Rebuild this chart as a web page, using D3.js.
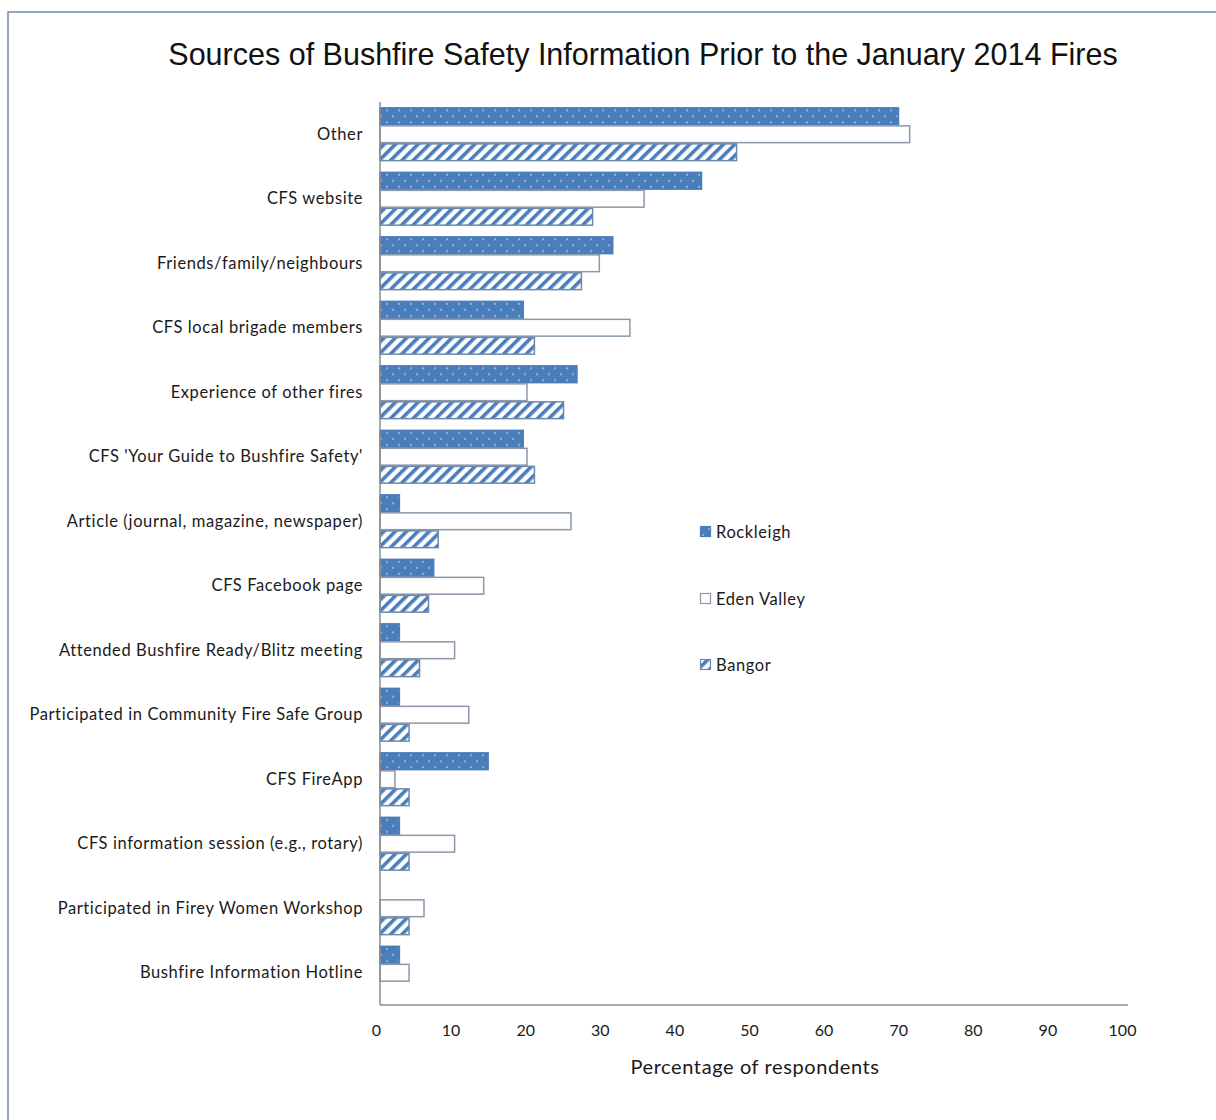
<!DOCTYPE html>
<html>
<head>
<meta charset="utf-8">
<script src="https://cdn.jsdelivr.net/npm/d3@7"></script>
<style>
  html, body { margin: 0; padding: 0; background: #ffffff; }
  svg { display: block; }
</style>
</head>
<body>
<svg id="chart" width="1216" height="1120"></svg>
<script>
// Information sources, listed top to bottom
const categories = [
  "Other",
  "CFS website",
  "Friends/family/neighbours",
  "CFS local brigade members",
  "Experience of other fires",
  "CFS 'Your Guide to Bushfire Safety'",
  "Article (journal, magazine, newspaper)",
  "CFS Facebook page",
  "Attended Bushfire Ready/Blitz meeting",
  "Participated in Community Fire Safe Group",
  "CFS FireApp",
  "CFS information session (e.g., rotary)",
  "Participated in Firey Women Workshop",
  "Bushfire Information Hotline"
];

const seriesNames = ["Rockleigh", "Eden Valley", "Bangor"];

// Percentage of respondents per town
const rockleigh  = [69.5, 43.1, 31.2, 19.2, 26.4, 19.2, 2.6, 7.2, 2.6, 2.6, 14.5, 2.6, 0, 2.6];
const edenValley = [71.0, 35.4, 29.4, 33.5, 19.7, 19.7, 25.6, 13.9, 10.0, 11.9, 2.0, 10.0, 5.9, 3.9];
const bangor     = [47.8, 28.5, 27.0, 20.7, 24.6, 20.7, 7.8, 6.5, 5.3, 3.9, 3.9, 3.9, 3.9, 0];

const xTicks = [0, 10, 20, 30, 40, 50, 60, 70, 80, 90, 100];

const title = "Sources of Bushfire Safety Information Prior to the January 2014 Fires";
const xTitle = "Percentage of respondents";

const valuesBySeries = [rockleigh, edenValley, bangor];

const svg = d3.select("#chart");
const defs = svg.append("defs");

// Dotted fill: blue with small pale dots
const dots = defs.append("pattern")
  .attr("id", "pat-dots")
  .attr("patternUnits", "userSpaceOnUse")
  .attr("width", 12).attr("height", 12);
dots.append("rect").attr("width", 12).attr("height", 12).attr("fill", "#4a7ebb");
dots.append("circle").attr("cx", 3).attr("cy", 3).attr("r", 0.85).attr("fill", "#d6e2f2");
dots.append("circle").attr("cx", 9).attr("cy", 9).attr("r", 0.85).attr("fill", "#d6e2f2");

// Diagonal hatch fill: white with blue stripes
const hatch = defs.append("pattern")
  .attr("id", "pat-hatch")
  .attr("patternUnits", "userSpaceOnUse")
  .attr("width", 8).attr("height", 8)
  .attr("patternTransform", "rotate(45)");
hatch.append("rect").attr("width", 8).attr("height", 8).attr("fill", "#ffffff");
hatch.append("rect").attr("x", 0).attr("width", 3.6).attr("height", 8).attr("fill", "#4a7ebb");

const styles = [
  { fill: "url(#pat-dots)",  stroke: "#4a7ebb" },
  { fill: "#ffffff",         stroke: "#8a98aa" },
  { fill: "url(#pat-hatch)", stroke: "#6c89ad" }
];

const labelFont = "Lato, 'Open Sans', sans-serif";

// Outer frame
svg.append("rect")
  .attr("x", 8).attr("y", 12)
  .attr("width", 1240).attr("height", 1140)
  .attr("fill", "#ffffff")
  .attr("stroke", "#7d92ad")
  .attr("stroke-width", 1.6);

// Plot geometry
const plot = { left: 380, right: 1126, top: 102, bottom: 1005 };

const x = d3.scaleLinear().domain([0, 100]).range([plot.left, plot.right]);

const y = d3.scaleBand()
  .domain(categories)
  .range([plot.top, plot.bottom])
  .paddingInner(0.163)
  .paddingOuter(0.0815);

const ySub = d3.scaleBand()
  .domain(seriesNames)
  .range([0, y.bandwidth()])
  .padding(0);

// Title
svg.append("text")
  .attr("x", 643).attr("y", 65)
  .attr("text-anchor", "middle")
  .attr("font-family", "'Liberation Sans', Arial, sans-serif")
  .attr("font-size", 30.5)
  .attr("fill", "#111111")
  .text(title);

// Bars
const groups = svg.append("g").selectAll("g")
  .data(categories)
  .join("g")
  .attr("transform", d => `translate(0,${y(d)})`);

groups.selectAll("rect")
  .data((c, i) => seriesNames
    .map((s, k) => ({ series: s, k, value: valuesBySeries[k][i] }))
    .filter(d => d.value > 0))
  .join("rect")
  .attr("x", x(0))
  .attr("y", d => ySub(d.series) + 0.6)
  .attr("width", d => x(d.value) - x(0))
  .attr("height", ySub.bandwidth() - 1.2)
  .attr("fill", d => styles[d.k].fill)
  .attr("stroke", d => styles[d.k].stroke)
  .attr("stroke-width", 1.5);

// Category labels
const yAxis = d3.axisLeft(y).tickSize(0).tickPadding(17);
const yAxisG = svg.append("g")
  .attr("transform", `translate(${plot.left},0)`)
  .call(yAxis);
yAxisG.select(".domain").remove();
yAxisG.selectAll("text")
  .attr("font-family", labelFont)
  .attr("font-size", 16.5)
  .attr("letter-spacing", 0.6)
  .attr("fill", "#1a1a1a");

// Value axis
const xAxis = d3.axisBottom(x).tickValues(xTicks).tickSize(0).tickPadding(20).tickFormat(d3.format("d"));
const xAxisG = svg.append("g")
  .attr("transform", `translate(0,${plot.bottom})`)
  .call(xAxis);
xAxisG.select(".domain").remove();
xAxisG.selectAll("text")
  .attr("dx", -4)
  .attr("font-family", labelFont)
  .attr("font-size", 16)
  .attr("fill", "#1a1a1a");

// Axis lines
svg.append("line")
  .attr("x1", plot.left).attr("x2", plot.left)
  .attr("y1", plot.top).attr("y2", plot.bottom)
  .attr("stroke", "#8c8c8c").attr("stroke-width", 1.5);
svg.append("line")
  .attr("x1", plot.left).attr("x2", 1128)
  .attr("y1", plot.bottom).attr("y2", plot.bottom)
  .attr("stroke", "#8c8c8c").attr("stroke-width", 1.5);

// Axis title
svg.append("text")
  .attr("x", 755).attr("y", 1074)
  .attr("text-anchor", "middle")
  .attr("font-family", labelFont)
  .attr("font-size", 20)
  .attr("letter-spacing", 0.6)
  .attr("fill", "#1a1a1a")
  .text(xTitle);

// Legend
const legendY = [532, 599, 665];
const legend = svg.append("g").selectAll("g")
  .data(seriesNames)
  .join("g")
  .attr("transform", (d, i) => `translate(700,${legendY[i]})`);
legend.append("rect")
  .attr("x", 0.5).attr("y", -5.5)
  .attr("width", 10).attr("height", 10)
  .attr("fill", (d, i) => styles[i].fill)
  .attr("stroke", (d, i) => styles[i].stroke)
  .attr("stroke-width", 1.2);
legend.append("text")
  .attr("x", 16).attr("y", 0)
  .attr("dy", "0.35em")
  .attr("font-family", labelFont)
  .attr("font-size", 16.5)
  .attr("letter-spacing", 0.6)
  .attr("fill", "#1a1a1a")
  .text(d => d);
</script>
</body>
</html>
